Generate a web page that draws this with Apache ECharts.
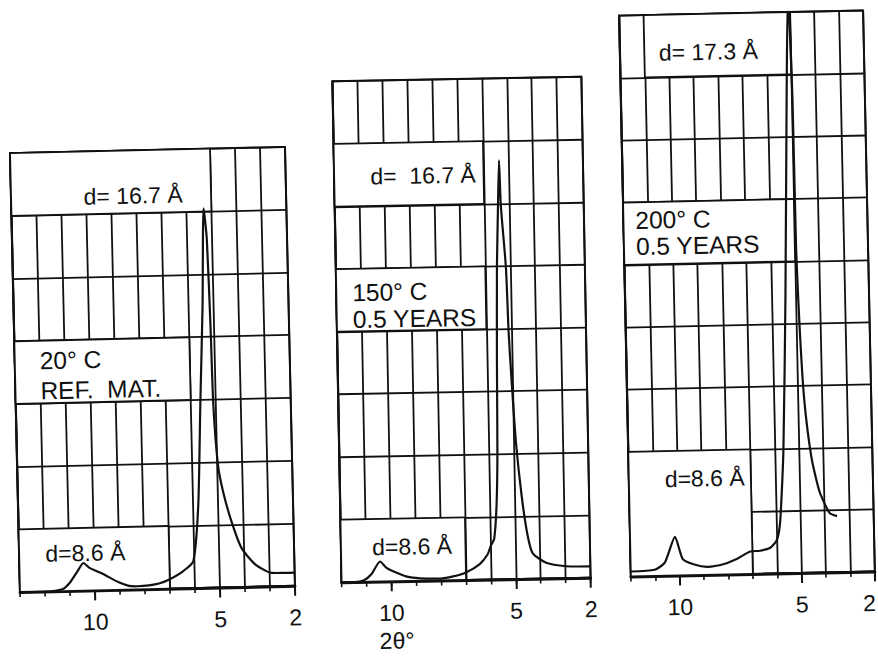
<!DOCTYPE html>
<html><head><meta charset="utf-8">
<script src="https://cdn.jsdelivr.net/npm/echarts@6/dist/echarts.min.js"></script>
<style>html,body{margin:0;padding:0;background:#fff}#wrap{position:relative;width:878px;height:661px;background:#fff;overflow:hidden}.p{position:absolute;left:0;top:0;width:878px;height:661px}</style>
</head><body><div id="wrap"><div id="p0" class="p"></div><div id="p1" class="p"></div><div id="p2" class="p"></div></div>
<script>
// ---------- data (2θ in degrees, intensity in chart-paper rows) ----------
const twoTheta1 = [13, 12, 11.3, 11.0, 10.7, 10.44, 10.2, 9.72, 9.04, 8.64, 8.3, 7.84, 7.4, 7.0, 6.44, 6.04, 5.79, 5.62, 5.44, 5.31, 5.21, 5.14, 5.10, 4.97, 4.79, 4.48, 4.10, 3.58, 2.99, 2.5, 2.0];
const intensity1 = [0.0, 0.0, 0.03, 0.13, 0.3, 0.44, 0.36, 0.27, 0.12, 0.06, 0.05, 0.06, 0.09, 0.15, 0.28, 0.43, 1.34, 2.92, 4.5, 6.05, 5.56, 4.13, 2.92, 1.96, 1.53, 1.05, 0.62, 0.36, 0.22, 0.21, 0.21];

const twoTheta2 = [12, 11.5, 11.12, 10.8, 10.44, 10.2, 9.97, 9.37, 8.84, 8.04, 7.52, 7.0, 6.44, 6.12, 5.98, 5.84, 5.72, 5.65, 5.6, 5.53, 5.44, 5.37, 5.33, 5.17, 5.11, 5.03, 4.9, 4.7, 4.5, 4.31, 3.77, 2.97, 2.0];
const intensity2 = [0.0, 0.0, 0.02, 0.12, 0.32, 0.22, 0.17, 0.07, 0.04, 0.03, 0.06, 0.12, 0.25, 0.4, 0.54, 0.65, 1.2, 2.0, 3.5, 5.0, 6.0, 6.69, 5.97, 4.97, 3.95, 3.2, 2.2, 1.3, 0.7, 0.41, 0.25, 0.19, 0.18];

const twoTheta3 = [12, 11.02, 10.6, 10.16, 9.86, 9.39, 8.85, 8.17, 7.63, 7.09, 6.69, 6.28, 6.01, 5.88, 5.8, 5.64, 5.43, 5.21, 5.07, 4.97, 4.95, 4.87, 4.75, 4.5, 4.2, 3.8, 3.5];
const intensity3 = [0.08, 0.1, 0.21, 0.62, 0.26, 0.17, 0.13, 0.17, 0.25, 0.36, 0.37, 0.41, 0.52, 0.7, 1.0, 2.0, 4.4, 7.6, 9.3, 7.6, 5.2, 3.9, 2.8, 1.85, 1.3, 0.95, 0.9];

const majorTicks = [10, 5, 2];
const axisTitle = '2θ°';
const panelTexts = [
  ['d= 16.7 Å', '20° C', 'REF.  MAT.', 'd=8.6 Å'],
  ['d=  16.7 Å', '150° C', '0.5 YEARS', 'd=8.6 Å'],
  ['d= 17.3 Å', '200° C', '0.5 YEARS', 'd=8.6 Å']
];

// ---------- layout ----------
const xRange = [[2, 13], [2, 12], [2, 12]];
const rowCount = [7, 8, 9];
const grids = [
  {left: 15, top: 150, width: 275, height: 439},
  {left: 337, top: 79, width: 249, height: 501},
  {left: 625, top: 13, width: 244, height: 561}
];
const tilt = [-1.3, -1.05, -1.2];   // scanned sheets are slightly skewed (degrees)
const lastLabelShift = [0, 0, 12];  // right padding (px) for the "2" label so it stays inside the page
// label boxes pasted on the paper: [2θ from, 2θ to, row bottom, row top]
const boxRects = [
  [[13, 5, 6, 7], [13, 6, 3, 4], [13, 7, 0, 1]],
  [[12, 6, 6, 7], [12, 6, 4, 5], [12, 7, 0, 1]],
  [[11, 5, 8, 9], [12, 5, 5, 6], [12, 7, 0, 2]]
];
// text anchors [2θ, row, font size]
const textAnchors = [
  [[10.1, 6.28, 23], [12.0, 3.68, 24.5], [12.0, 3.2, 24.5], [11.95, 0.6, 23]],
  [[10.55, 6.47, 23], [11.36, 4.62, 24.5], [11.36, 4.19, 24.5], [10.75, 0.55, 23]],
  [[10.41, 8.39, 23], [11.51, 5.71, 24.5], [11.51, 5.29, 24.5], [10.53, 1.55, 23]]
];

const FONT = "'Liberation Sans', Arial, sans-serif";
const INK = '#111';
const curves = [[twoTheta1, intensity1], [twoTheta2, intensity2], [twoTheta3, intensity3]];

grids.forEach((g, i) => {
  const el = document.getElementById('p' + i);
  el.style.transformOrigin = (g.left + g.width / 2) + 'px ' + (g.top + g.height / 2) + 'px';
  el.style.transform = 'rotate(' + tilt[i] + 'deg)';
  const chart = echarts.init(el, null, {renderer: 'svg'});
  const option = {
    animation: false,
    grid: Object.assign({show: true, borderColor: INK, borderWidth: 2, backgroundColor: '#fff', containLabel: false}, g),
    xAxis: [{
      type: 'value', position: 'bottom', min: xRange[i][0], max: xRange[i][1], interval: 1, inverse: true,
      axisLine: {show: true, lineStyle: {color: INK, width: 3}},
      axisTick: {show: true, length: 5, lineStyle: {color: INK, width: 1.6}},
      axisLabel: {show: false},
      splitLine: {show: true, lineStyle: {color: INK, width: 1.8}}
    }, {
      type: 'value', position: 'bottom', min: xRange[i][0], max: xRange[i][1], interval: 1, inverse: true,
      axisLine: {show: false},
      axisTick: {show: true, length: 10, customValues: majorTicks, lineStyle: {color: INK, width: 2}},
      axisLabel: {
        show: true, customValues: majorTicks, margin: 20, fontSize: 23, fontFamily: FONT, color: INK,
        formatter: v => (v === 2 && lastLabelShift[i] > 0) ? '{e|' + v + '}' : String(v),
        rich: {e: {fontSize: 23, fontFamily: FONT, color: INK, padding: [0, lastLabelShift[i], 0, 0]}}
      },
      splitLine: {show: false}
    }],
    yAxis: {
      type: 'value', min: 0, max: rowCount[i], interval: 1,
      axisLine: {show: true, lineStyle: {color: INK, width: 2.2}},
      axisTick: {show: false}, axisLabel: {show: false},
      splitLine: {show: true, lineStyle: {color: INK, width: 1.8}}
    },
    series: [{
      type: 'custom', xAxisIndex: 0, z: 1, silent: true,
      encode: {x: [0, 1], y: [2, 3]},
      data: boxRects[i],
      renderItem: (params, api) => {
        const a = api.coord([api.value(0), api.value(3)]);
        const b = api.coord([api.value(1), api.value(2)]);
        return {type: 'rect', shape: {x: Math.min(a[0], b[0]), y: Math.min(a[1], b[1]), width: Math.abs(b[0] - a[0]), height: Math.abs(b[1] - a[1])},
          style: {fill: '#fff', stroke: INK, lineWidth: 1.8}};
      }
    }, {
      type: 'line', xAxisIndex: 0, z: 3, silent: true,
      data: curves[i][0].map((x, k) => [x, curves[i][1][k]]),
      showSymbol: false, smooth: 0.2, clip: true,
      lineStyle: {color: INK, width: 2.2}
    }, {
      type: 'custom', xAxisIndex: 0, z: 4, silent: true,
      encode: {x: 0, y: 1},
      data: textAnchors[i],
      renderItem: (params, api) => {
        const p = api.coord([api.value(0), api.value(1)]);
        return {type: 'text', x: p[0], y: p[1],
          style: {text: panelTexts[i][params.dataIndex], fill: INK, fontSize: api.value(2), fontFamily: FONT,
            align: 'left', verticalAlign: 'middle'}};
      }
    }]
  };
  if (i === 1) {
    option.graphic = [{type: 'text', left: 374, top: 628, style: {text: axisTitle, fontSize: 23, fontFamily: FONT, fill: INK}}];
  }
  chart.setOption(option);
});
</script></body></html>
